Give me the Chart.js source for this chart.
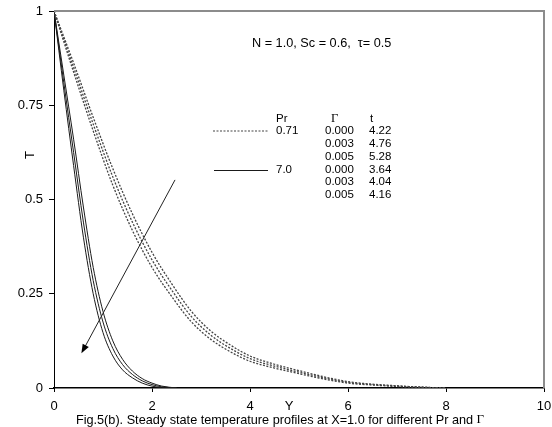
<!DOCTYPE html>
<html>
<head>
<meta charset="utf-8">
<script src="https://cdn.jsdelivr.net/npm/chart.js@4"></script>
<style>body{margin:0;background:#fff}</style>
</head>
<body>
<canvas id="c" width="552" height="427"></canvas>
<script>
// Y positions (x axis) and temperature T for each profile
const yDash = [0, 0.4, 0.8, 1.2, 1.6, 2.0, 2.4, 2.8, 3.2, 3.6, 4.0, 4.5, 5.0, 5.5, 6.0, 6.5, 7.0, 7.5, 8.0];
const tPr071G0 = [1, 0.862, 0.718, 0.582, 0.462, 0.36, 0.277, 0.204, 0.151, 0.114, 0.085, 0.063, 0.046, 0.030, 0.017, 0.010, 0.006, 0.002, 0];
const tPr071G3 = [1, 0.85, 0.70, 0.56, 0.44, 0.34, 0.26, 0.19, 0.14, 0.105, 0.078, 0.058, 0.042, 0.027, 0.015, 0.009, 0.005, 0.002, 0];
const tPr071G5 = [1, 0.838, 0.682, 0.538, 0.418, 0.32, 0.243, 0.176, 0.129, 0.096, 0.071, 0.053, 0.038, 0.024, 0.013, 0.008, 0.004, 0.002, 0];

const ySolid = [0, 0.2, 0.4, 0.6, 0.8, 1.0, 1.2, 1.4, 1.6, 1.8, 2.0, 2.2, 2.5];
const tPr7G0 = [1, 0.83, 0.66, 0.48, 0.32, 0.203, 0.125, 0.076, 0.045, 0.025, 0.013, 0.005, 0];
const tPr7G3 = [1, 0.81, 0.625, 0.44, 0.285, 0.175, 0.105, 0.062, 0.036, 0.019, 0.009, 0.003, 0];
const tPr7G5 = [1, 0.79, 0.59, 0.40, 0.25, 0.147, 0.085, 0.048, 0.027, 0.013, 0.005, 0.001, 0];

// legend table
const prCol = ['0.71', '', '', '7.0', '', ''];
const gammaCol = ['0.000', '0.003', '0.005', '0.000', '0.003', '0.005'];
const tCol = ['4.22', '4.76', '5.28', '3.64', '4.04', '4.16'];

// arrow (direction of increasing Gamma), in data units
const arrowFrom = [2.47, 0.552];
const arrowTo = [0.56, 0.092];

const FONT = '"Liberation Sans", Arial, sans-serif';
const SERIF = '"Liberation Serif", "Times New Roman", serif';

function pts(xs, ys) {
  return xs.map((x, i) => ({x: x, y: ys[i]}));
}

const dashStyle = {borderColor: '#444', borderWidth: 1.3, borderDash: [2, 1.5]};
const solidStyle = {borderColor: '#1a1a1a', borderWidth: 1};

const decor = {
  id: 'decor',
  afterDraw(chart) {
    const ctx = chart.ctx;
    const a = chart.chartArea;
    const xs = chart.scales.x, ys = chart.scales.y;
    ctx.save();
    // top and right frame
    ctx.strokeStyle = '#8c8c8c';
    ctx.lineWidth = 2;
    ctx.beginPath();
    ctx.moveTo(a.left, a.top);
    ctx.lineTo(a.right, a.top);
    ctx.lineTo(a.right, a.bottom);
    ctx.stroke();

    ctx.fillStyle = '#000';
    ctx.textBaseline = 'middle';
    // parameters
    ctx.font = '12.7px ' + FONT;
    ctx.textAlign = 'left';
    ctx.fillText('N = 1.0, Sc = 0.6,  \u03c4= 0.5', 252, 43);

    // legend table
    ctx.font = '11.5px ' + FONT;
    const rowY = [131, 144, 157, 170, 182, 195];
    ctx.fillText('Pr', 276, 119);
    ctx.fillText('t', 370, 119);
    prCol.forEach((v, i) => ctx.fillText(v, 276, rowY[i]));
    gammaCol.forEach((v, i) => ctx.fillText(v, 325, rowY[i]));
    tCol.forEach((v, i) => ctx.fillText(v, 369, rowY[i]));
    ctx.font = '12.5px ' + SERIF;
    ctx.fillText('\u0393', 331, 119);
    // legend samples
    ctx.lineWidth = 1.2;
    ctx.strokeStyle = '#444';
    ctx.setLineDash([2, 1.5]);
    ctx.beginPath(); ctx.moveTo(213, 131); ctx.lineTo(268, 131); ctx.stroke();
    ctx.setLineDash([]);
    ctx.strokeStyle = '#1a1a1a';
    ctx.lineWidth = 1;
    ctx.beginPath(); ctx.moveTo(214, 170.5); ctx.lineTo(268, 170.5); ctx.stroke();

    // arrow
    const x0 = xs.getPixelForValue(arrowFrom[0]), y0 = ys.getPixelForValue(arrowFrom[1]);
    const x1 = xs.getPixelForValue(arrowTo[0]), y1 = ys.getPixelForValue(arrowTo[1]);
    const ang = Math.atan2(y1 - y0, x1 - x0);
    ctx.strokeStyle = '#222';
    ctx.lineWidth = 1;
    ctx.beginPath(); ctx.moveTo(x0, y0); ctx.lineTo(x1 - 6 * Math.cos(ang), y1 - 6 * Math.sin(ang)); ctx.stroke();
    ctx.fillStyle = '#000';
    ctx.beginPath();
    ctx.moveTo(x1, y1);
    ctx.lineTo(x1 - 9 * Math.cos(ang) + 3.5 * Math.sin(ang), y1 - 9 * Math.sin(ang) - 3.5 * Math.cos(ang));
    ctx.lineTo(x1 - 9 * Math.cos(ang) - 3.5 * Math.sin(ang), y1 - 9 * Math.sin(ang) + 3.5 * Math.cos(ang));
    ctx.closePath();
    ctx.fill();

    // axis titles and caption
    ctx.font = '13px ' + FONT;
    ctx.textAlign = 'center';
    ctx.fillText('Y', 289, 406);
    // caption: sans text followed by a serif Gamma, centred as one line
    const capText = 'Fig.5(b). Steady state temperature profiles at X=1.0 for different Pr and ';
    ctx.font = '12.7px ' + FONT;
    const w1 = ctx.measureText(capText).width;
    ctx.font = '13px ' + SERIF;
    const w2 = ctx.measureText('\u0393').width;
    const cx = 280 - (w1 + w2) / 2;
    ctx.textAlign = 'left';
    ctx.font = '12.7px ' + FONT;
    ctx.fillText(capText, cx, 420);
    ctx.font = '13px ' + SERIF;
    ctx.fillText('\u0393', cx + w1, 420);
    ctx.textAlign = 'center';
    ctx.font = '13px ' + FONT;
    ctx.translate(30, 155);
    ctx.rotate(-Math.PI / 2);
    ctx.fillText('T', 0, 0);
    ctx.restore();
  }
};

new Chart(document.getElementById('c'), {
  type: 'line',
  data: {
    datasets: [
      Object.assign({label: 'Pr=0.71, \u0393=0.000', data: pts(yDash, tPr071G0)}, dashStyle),
      Object.assign({label: 'Pr=0.71, \u0393=0.003', data: pts(yDash, tPr071G3)}, dashStyle),
      Object.assign({label: 'Pr=0.71, \u0393=0.005', data: pts(yDash, tPr071G5)}, dashStyle),
      Object.assign({label: 'Pr=7.0, \u0393=0.000', data: pts(ySolid, tPr7G0)}, solidStyle),
      Object.assign({label: 'Pr=7.0, \u0393=0.003', data: pts(ySolid, tPr7G3)}, solidStyle),
      Object.assign({label: 'Pr=7.0, \u0393=0.005', data: pts(ySolid, tPr7G5)}, solidStyle)
    ]
  },
  options: {
    responsive: false,
    animation: false,
    devicePixelRatio: 1,
    layout: {padding: {top: 11, right: 8, left: 0, bottom: 0}},
    elements: {point: {radius: 0}, line: {cubicInterpolationMode: 'monotone', fill: false}},
    plugins: {legend: {display: false}, tooltip: {enabled: false}},
    scales: {
      x: {
        type: 'linear', min: 0, max: 10,
        afterFit(s) { s.height = 39; s.paddingRight = 0; s.paddingLeft = 0; },
        ticks: {stepSize: 2, color: '#000', padding: 7, font: {family: FONT, size: 13}, maxRotation: 0},
        grid: {drawOnChartArea: false, tickLength: 4, color: '#000'},
        border: {color: '#000', width: 1.5}
      },
      y: {
        min: 0, max: 1,
        afterFit(s) { s.width = 54; s.paddingTop = 0; s.paddingBottom = 0; },
        ticks: {stepSize: 0.25, color: '#000', padding: 6, font: {family: FONT, size: 13},
          callback: v => String(+v.toFixed(2))},
        grid: {drawOnChartArea: false, tickLength: 5, color: '#000'},
        border: {color: '#000', width: 1}
      }
    }
  },
  plugins: [decor]
});
</script>
</body>
</html>
